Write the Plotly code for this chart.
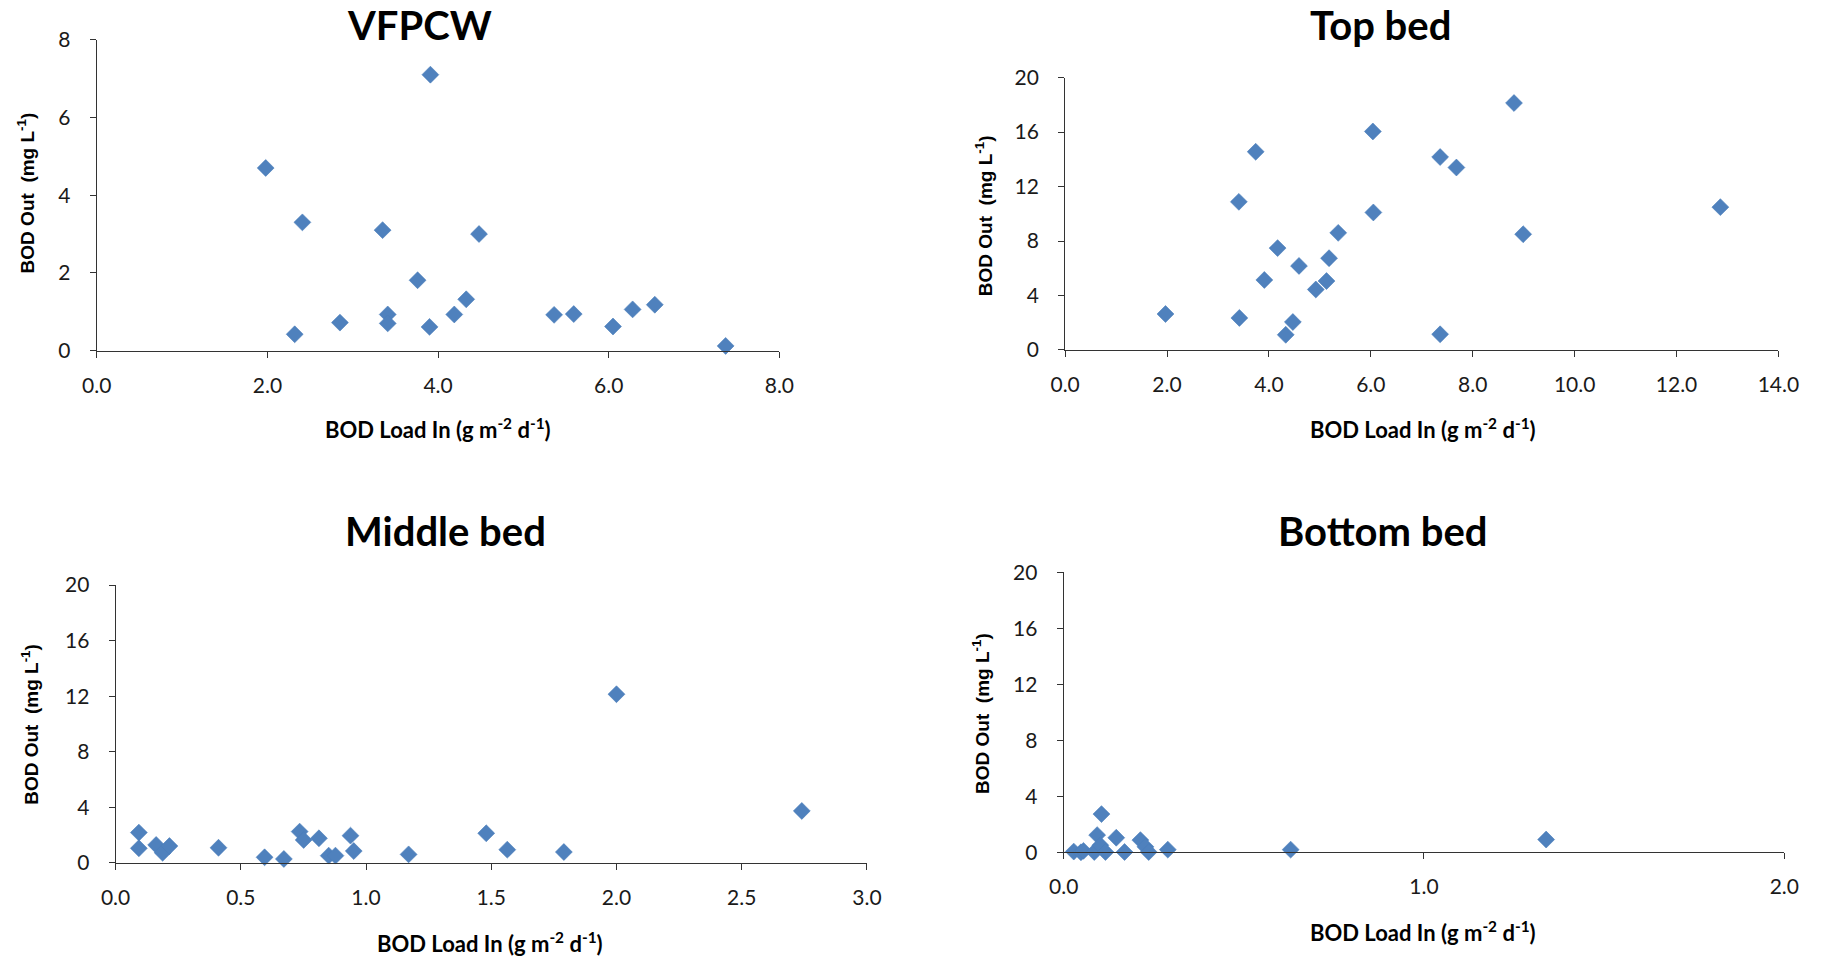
import plotly.graph_objects as go

# BOD outlet concentration vs. BOD load applied, for the whole system and each bed
vfpcw_load = [1.98, 2.32, 2.41, 2.85, 3.35, 3.41, 3.41, 3.76, 3.91, 3.90,
              4.19, 4.33, 4.48, 5.36, 5.59, 6.05, 6.28, 6.54, 7.37]
vfpcw_out = [4.70, 0.42, 3.30, 0.72, 3.10, 0.93, 0.70, 1.81, 7.10, 0.61,
             0.93, 1.32, 3.00, 0.92, 0.94, 0.62, 1.06, 1.18, 0.12]

top_load = [1.97, 3.42, 3.41, 3.74, 3.91, 4.17, 4.33, 4.47, 4.59, 4.92, 5.13,
            5.18, 5.36, 6.04, 6.05, 7.36, 7.36, 7.68, 8.81, 8.99, 12.86]
top_out = [2.64, 2.35, 10.88, 14.56, 5.14, 7.48, 1.11, 2.05, 6.17, 4.44, 5.06,
           6.74, 8.60, 16.05, 10.10, 14.17, 1.15, 13.40, 18.14, 8.50, 10.49]

middle_load = [0.093, 0.093, 0.162, 0.188, 0.215, 0.411, 0.595, 0.672, 0.735,
               0.751, 0.812, 0.851, 0.878, 0.938, 0.951, 1.17, 1.48, 1.564,
               1.79, 2.00, 2.74]
middle_out = [2.17, 1.04, 1.28, 0.72, 1.20, 1.08, 0.39, 0.27, 2.24, 1.64, 1.76,
              0.51, 0.51, 1.95, 0.84, 0.60, 2.12, 0.94, 0.77, 12.14, 3.73]

bottom_load = [0.028, 0.048, 0.055, 0.085, 0.093, 0.105, 0.102, 0.116, 0.146,
               0.169, 0.213, 0.227, 0.236, 0.289, 0.63, 1.339]
bottom_out = [0.05, 0.00, 0.10, 0.02, 1.23, 2.73, 0.50, 0.02, 1.04, 0.02,
              0.87, 0.39, 0.02, 0.19, 0.19, 0.91]

panel_titles = ["VFPCW", "Top bed", "Middle bed", "Bottom bed"]
x_title = "BOD Load In (g m<sup>-2</sup> d<sup>-1</sup>)"
y_title = "BOD Out  (mg L<sup>-1</sup>)"

W, H = 1821, 960


def px(x):
    return x / W


def py(y):
    return 1 - y / H


MARKER = dict(symbol="diamond", size=13, color="#4F81BD",
              line=dict(width=0.6, color="#4A7EBB"))
TICK_FONT = dict(family="Lato, Open Sans, sans-serif", size=21, color="#1a1a1a")
AXIS_COLOR = "#333333"

panels = [
    # data, x range/dtick, y range/dtick, x pixel span, y pixel span (bottom, top)
    dict(x=vfpcw_load, y=vfpcw_out, xr=[0, 8], xd=2, yr=[0, 8], yd=2,
         xs=(83.4, 779.8), ys=(345.6, 26.4)),
    dict(x=top_load, y=top_out, xr=[0, 14], xd=2, yr=[0, 20], yd=4,
         xs=(1071.3, 1799.0), ys=(344.9, 65.4)),
    dict(x=middle_load, y=middle_out, xr=[0, 3], xd=0.5, yr=[0, 20], yd=4,
         xs=(102.6, 869.1), ys=(871.4, 586.4)),
    dict(x=bottom_load, y=bottom_out, xr=[0, 2], xd=1, yr=[0, 20], yd=4,
         xs=(1069.8, 1805.0), ys=(860.7, 573.4)),
]

fig = go.Figure()
layout = dict(
    width=W, height=H,
    margin=dict(l=0, r=0, t=0, b=0),
    paper_bgcolor="white", plot_bgcolor="white",
    showlegend=False,
)

for i, p in enumerate(panels, start=1):
    sx = "" if i == 1 else str(i)
    fig.add_trace(go.Scatter(
        x=p["x"], y=p["y"], mode="markers", marker=MARKER,
        xaxis="x" + sx, yaxis="y" + sx, cliponaxis=False,
    ))
    layout["xaxis" + sx] = dict(
        domain=[px(p["xs"][0]), px(p["xs"][1])],
        range=p["xr"], dtick=p["xd"], tick0=0, tickformat=".1f",
        anchor="y" + sx, showgrid=False, zeroline=False,
        showline=True, linecolor=AXIS_COLOR, linewidth=1,
        ticks="outside", ticklen=6, tickcolor=AXIS_COLOR, tickwidth=1,
        tickfont=TICK_FONT, ticklabelstandoff=10,
    )
    layout["yaxis" + sx] = dict(
        domain=[py(p["ys"][0]), py(p["ys"][1])],
        range=p["yr"], dtick=p["yd"], tick0=0, tickformat="d",
        anchor="x" + sx, showgrid=False, zeroline=False,
        showline=True, linecolor=AXIS_COLOR, linewidth=1,
        ticks="outside", ticklen=6, tickcolor=AXIS_COLOR, tickwidth=1,
        tickfont=TICK_FONT, ticklabelstandoff=15,
    )

fig.update_layout(**layout)

# Panel titles, axis titles (pixel positions)
title_pos = [(413.0, 11.0), (1393.5, 11.0), (439.0, 531.0), (1395.5, 531.0)]
xtitle_pos = [(431.1, 426.0), (1436.2, 425.5), (485.0, 953.5), (1436.2, 942.0)]
ytitle_pos = [(11.5, 183.9), (988.5, 206.6), (14.5, 729.6), (986.0, 718.1)]

annotations = []
for t, (tx, ty) in zip(panel_titles, title_pos):
    annotations.append(dict(
        text="<b>%s</b>" % t, x=px(tx), y=py(ty), xref="paper", yref="paper",
        showarrow=False, xanchor="center", yanchor="middle",
        font=dict(family="Lato, Open Sans, sans-serif", size=40, color="#000000"),
    ))
for (tx, ty) in xtitle_pos:
    annotations.append(dict(
        text="<b>%s</b>" % x_title, x=px(tx), y=py(ty), xref="paper", yref="paper",
        showarrow=False, xanchor="center", yanchor="middle",
        font=dict(family="Lato, Open Sans, sans-serif", size=22, color="#000000"),
    ))
for (tx, ty) in ytitle_pos:
    annotations.append(dict(
        text="<b>%s</b>" % y_title, x=px(tx), y=py(ty), xref="paper", yref="paper",
        showarrow=False, xanchor="center", yanchor="middle", textangle=-90,
        font=dict(family="Liberation Sans, Arial, sans-serif", size=19, color="#000000"),
    ))
fig.update_layout(annotations=annotations)

fig.write_html("out.html")
